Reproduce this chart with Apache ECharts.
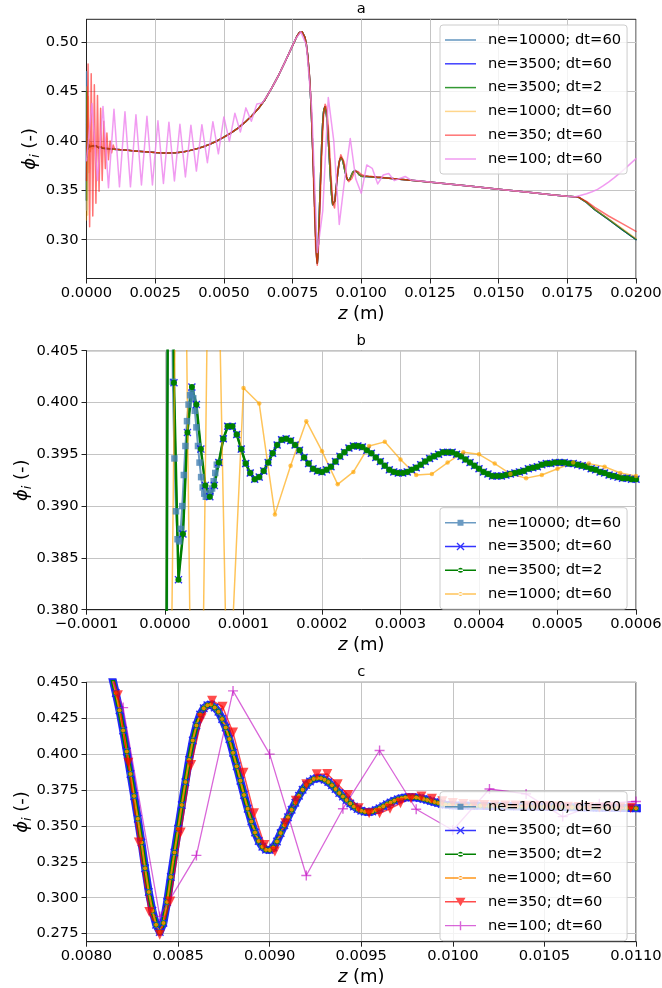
<!DOCTYPE html>
<html><head><meta charset="utf-8">
<script src="https://cdn.jsdelivr.net/npm/echarts@6/dist/echarts.min.js"></script>
<style>html,body{margin:0;padding:0;background:#fff}#c{width:662px;height:988px}</style>
</head><body><div id="c"></div>
<script>
// ---------------- DATA (z in micrometres, phi dimensionless) ----------------
const seriesNames = ['ne=10000; dt=60','ne=3500; dt=60','ne=3500; dt=2','ne=1000; dt=60','ne=350; dt=60','ne=100; dt=60'];
const panelTitles = ['a','b','c'];
const yTicksA = [0.30,0.35,0.40,0.45,0.50];
const yTicksB = [0.380,0.385,0.390,0.395,0.400,0.405];
const yTicksC = [0.275,0.300,0.325,0.350,0.375,0.400,0.425,0.450];

// ne=3500 nodes near the inlet (panel b)
const zB3500 = [0,5.71,11.43,17.14,22.86,28.57,34.29,40,45.71,51.43,57.14,62.86,68.57,74.29,80,85.71,91.43,97.14,102.86,108.57,114.29,120,125.71,131.43,137.14,142.86,148.57,154.29,160,165.71,171.43,177.14,182.86,188.57,194.29,200,205.71,211.43,217.14,222.86,228.57,234.29,240,245.71,251.43,257.14,262.86,268.57,274.29,280,285.71,291.43,297.14,302.86,308.57,314.29,320,325.71,331.43,337.14,342.86,348.57,354.29,360,365.71,371.43,377.14,382.86,388.57,394.29,400,405.71,411.43,417.14,422.86,428.57,434.29,440,445.71,451.43,457.14,462.86,468.57,474.29,480,485.71,491.43,497.14,502.86,508.57,514.29,520,525.71,531.43,537.14,542.86,548.57,554.29,560,565.71,571.43,577.14,582.86,588.57,594.29,600];
const phiB3500 = [0.34,0.45,0.4019,0.3829,0.3873,0.3971,0.4015,0.3998,0.3955,0.3920,0.3909,0.3920,0.3942,0.3965,0.3977,0.3977,0.3969,0.3955,0.3941,0.3932,0.3926,0.3928,0.3934,0.3942,0.3951,0.3959,0.3964,0.3965,0.3963,0.3959,0.3954,0.3947,0.3941,0.3936,0.3934,0.3933,0.3935,0.3938,0.3943,0.3948,0.3952,0.3956,0.3958,0.3958,0.3957,0.3954,0.3951,0.3947,0.3943,0.3939,0.3935,0.3933,0.3932,0.3932,0.3933,0.3935,0.3937,0.3940,0.3943,0.3946,0.3948,0.3950,0.3952,0.3952,0.3952,0.3950,0.3948,0.3945,0.3942,0.3939,0.3936,0.3933,0.3931,0.3929,0.3929,0.3929,0.3930,0.3931,0.3932,0.3933,0.3934,0.3936,0.3937,0.3938,0.3940,0.3941,0.3941,0.3942,0.3942,0.3942,0.3941,0.3941,0.3940,0.3939,0.3938,0.3936,0.3935,0.3933,0.3932,0.3930,0.3929,0.3928,0.3927,0.3927,0.3926,0.3926];

// ne=10000, first nodes (panel b)
const zB10000 = [0,2,4,6,8,10,12,14,16,18,20,22,24,26,28,30,32,34,36,38,40,42,44,46,48,50,52,54,56,58,60,62,64,66];
const phiB10000 = [0.34,0.33,0.47,0.44,0.418,0.402,0.3946,0.3895,0.3868,0.3866,0.3878,0.3900,0.3930,0.3958,0.3982,0.3998,0.4007,0.4009,0.4004,0.3992,0.3976,0.3958,0.3942,0.3928,0.3918,0.3912,0.3909,0.3909,0.3910,0.3913,0.3917,0.3924,0.3932,0.3940];

// ne=1000 nodes near the inlet (panel b)
const zB1000 = [0,20,40,60,80,100,120,140,160,180,200,220,240,260,280,300,320,340,360,380,400,420,440,460,480,500,520,540,560,580,600];
const phiB1000 = [0.320,0.455,0.325,0.445,0.368,0.4014,0.3999,0.3892,0.3939,0.3982,0.3953,0.3921,0.3933,0.3958,0.3962,0.3945,0.3930,0.3931,0.3942,0.3952,0.3950,0.3941,0.3931,0.3927,0.3930,0.3936,0.3942,0.3941,0.3938,0.3932,0.3929];

// ne=350 nodes near the inlet (panel a)
const zA350 = [0,57.1,114.3,171.4,228.6,285.7,342.9,400,457.1,514.3,571.4,628.6,685.7,742.9,800,857.1,914.3,971.4,1028.6];
const phiA350 = [0.360,0.478,0.313,0.468,0.324,0.457,0.337,0.446,0.349,0.433,0.360,0.420,0.372,0.408,0.381,0.400,0.388,0.396,0.3915];

// converged profile 0.7 - 8.05 mm (panel a)
const zAMid = [700,850,1000,1250,1500,1750,2000,2250,2500,2750,3000,3250,3500,3750,4000,4250,4500,4750,5000,5250,5500,5750,6000,6250,6500,6750,7000,7250,7500,7650,7750,7800,7850,7900,7950,8000,8050];
const phiAMid = [0.3924,0.3921,0.3917,0.3911,0.3905,0.3899,0.3893,0.3887,0.3882,0.3879,0.3878,0.3881,0.3889,0.3902,0.3920,0.3942,0.3968,0.4000,0.4038,0.4080,0.4128,0.4185,0.4250,0.4325,0.4420,0.4540,0.4670,0.4815,0.4965,0.5055,0.5098,0.5108,0.5105,0.5088,0.5050,0.4980,0.4870];

// converged profile 8.1 - 11 mm (panel c)
const cMain = [[8100,0.4710],[8120,0.4630],[8140,0.4535],[8160,0.4425],[8180,0.4305],[8200,0.4165],[8220,0.4018],[8240,0.3862],[8260,0.3708],[8280,0.3550],[8300,0.3385],[8320,0.3205],[8340,0.3040],[8360,0.2910],[8380,0.2812],[8400,0.2762],[8420,0.2825],[8440,0.2970],[8460,0.3145],[8480,0.3315],[8500,0.3480],[8520,0.3645],[8540,0.3805],[8560,0.3960],[8580,0.4095],[8600,0.4200],[8620,0.4275],[8640,0.4320],[8660,0.4340],[8680,0.4345],[8700,0.4325],[8720,0.4295],[8740,0.4245],[8760,0.4185],[8780,0.4105],[8800,0.4010],[8820,0.3915],[8840,0.3815],[8860,0.3715],[8880,0.3620],[8900,0.3530],[8920,0.3455],[8940,0.3395],[8960,0.3355],[8980,0.3335],[9000,0.3332],[9020,0.3350],[9040,0.3392],[9060,0.3450],[9080,0.3505],[9100,0.3560],[9120,0.3612],[9140,0.3662],[9160,0.3710],[9180,0.3752],[9200,0.3785],[9220,0.3810],[9240,0.3826],[9260,0.3833],[9280,0.3832],[9300,0.3822],[9320,0.3805],[9340,0.3783],[9360,0.3757],[9380,0.3730],[9400,0.3705],[9420,0.3680],[9440,0.3656],[9460,0.3635],[9480,0.3618],[9500,0.3606],[9520,0.3599],[9540,0.3597],[9560,0.3601],[9580,0.3611],[9600,0.3623],[9620,0.3637],[9640,0.3651],[9660,0.3664],[9680,0.3676],[9700,0.3686],[9720,0.3693],[9740,0.3698],[9760,0.3700],[9780,0.3700],[9800,0.3698],[9820,0.3694],[9840,0.3688],[9860,0.3681],[9880,0.3673],[9900,0.3666],[9920,0.3659],[9940,0.3653],[9960,0.3648],[9980,0.3645],[10000,0.3643],[10050,0.3642],[10100,0.3641],[10150,0.3640],[10200,0.3639],[10250,0.3638],[10300,0.3637],[10350,0.3636],[10400,0.3635],[10450,0.3634],[10500,0.3633],[10550,0.3632],[10600,0.3631],[10650,0.3630],[10700,0.3629],[10750,0.3628],[10800,0.3627],[10850,0.3626],[10900,0.3625],[10950,0.3624],[11000,0.3623]];

// ne=350 nodes 8 - 11 mm (panel c)
const c350 = [[8000,0.497],[8057.1,0.485],[8114.3,0.467],[8171.4,0.441],[8228.6,0.394],[8285.7,0.3385],[8342.9,0.290],[8400,0.2742],[8457.1,0.2974],[8514.3,0.3454],[8571.4,0.3925],[8628.6,0.4250],[8685.7,0.4372],[8742.9,0.4330],[8800,0.4150],[8857.1,0.3871],[8914.3,0.3588],[8971.4,0.3368],[9028.6,0.3322],[9085.7,0.3519],[9142.9,0.3675],[9200,0.3790],[9257.1,0.3860],[9314.3,0.3862],[9371.4,0.3790],[9428.6,0.3716],[9485.7,0.3623],[9542.9,0.3588],[9600,0.3588],[9657.1,0.3620],[9714.3,0.3658],[9771.4,0.3693],[9828.6,0.3705],[9885.7,0.3690],[9942.9,0.3672],[10000,0.3660],[10057.1,0.3652],[10114.3,0.3648],[10171.4,0.3646],[10228.6,0.3644],[10285.7,0.3643],[10342.9,0.3642],[10400,0.3640],[10457.1,0.3638],[10514.3,0.3637],[10571.4,0.3635],[10628.6,0.3634],[10685.7,0.3632],[10742.9,0.3631],[10800,0.3629],[10857.1,0.3628],[10914.3,0.3626],[10971.4,0.3625],[11028.6,0.3623]];

// outlet part (panel a)
const zATail = [12000,13000,14000,15000,16000,17000,17500,17900,18200,18500,19000,19500,20000];
const phiATail = [0.3598,0.3570,0.3541,0.3511,0.3482,0.3453,0.3439,0.3432,0.3378,0.3305,0.3205,0.3103,0.3002];
const phiATail1000 = [0.3598,0.3570,0.3541,0.3511,0.3482,0.3453,0.3439,0.3432,0.3380,0.3310,0.3212,0.3112,0.3012];
const phiATail350 = [0.3598,0.3570,0.3541,0.3511,0.3482,0.3453,0.3439,0.3432,0.3388,0.3328,0.3240,0.3162,0.3084];

// ne=100 over the whole bed
const a100 = [[0,0.380],[200,0.438],[400,0.360],[600,0.435],[800,0.3527],[1000,0.432],[1200,0.3535],[1400,0.4295],[1600,0.3535],[1800,0.4265],[2000,0.3555],[2200,0.4250],[2400,0.3555],[2600,0.4205],[2800,0.3570],[3000,0.4190],[3200,0.3595],[3400,0.4168],[3600,0.3635],[3800,0.4160],[4000,0.3695],[4200,0.4165],[4400,0.3780],[4600,0.4195],[4800,0.3870],[5000,0.4243],[5200,0.3995],[5400,0.4280],[5600,0.4090],[5800,0.4335],[6000,0.4200],[6200,0.4375],[6400,0.4385],[6600,0.4470],[6800,0.4565],[7000,0.4670],[7200,0.4785],[7400,0.4905],[7600,0.5030],[7800,0.5105],[8000,0.4975],[8200,0.4324],[8400,0.2870],[8600,0.3295],[8800,0.4440],[9000,0.4000],[9200,0.3155],[9400,0.3620],[9600,0.4025],[9800,0.3616],[10000,0.3470],[10200,0.3757],[10400,0.3723],[10600,0.3565],[10800,0.3655],[11000,0.3670],[11200,0.3598],[11400,0.3620],[11600,0.3640],[11800,0.3605],[12000,0.3600],[12500,0.3584],[13000,0.3570],[14000,0.3541],[15000,0.3511],[16000,0.3482],[17000,0.3453],[17600,0.3437],[17800,0.3434],[18000,0.3450],[18200,0.3465],[18400,0.3485],[18600,0.3510],[18800,0.3545],[19000,0.3584],[19200,0.3626],[19400,0.3672],[19600,0.3720],[19800,0.3770],[20000,0.3821]];

// ---------------- BUILD ----------------
const FONT = "'DejaVu Sans', sans-serif";
function pairs(z, p){ return z.map((v,i)=>[v,p[i]]); }
function chain(){ const out=[]; for (const seg of arguments){ for (const pt of seg){ if(!out.length || pt[0] > out[out.length-1][0]) out.push(pt); } } return out; }

const b3500 = pairs(zB3500, phiB3500);
const b10000 = chain(pairs(zB10000, phiB10000), b3500);
const b1000 = pairs(zB1000, phiB1000);
const mid = pairs(zAMid, phiAMid);
const tail = pairs(zATail, phiATail);
const s10000 = chain(b10000, mid, cMain, tail);
const s3500 = chain(b3500, mid, cMain, tail);
const s1000 = chain(b1000, mid, cMain, pairs(zATail, phiATail1000));
const s350 = chain(pairs(zA350, phiA350), mid, c350, pairs(zATail, phiATail350));
const s100 = a100;

const SYM_X = 'path://M0,1.2L1.2,0L5,3.8L8.8,0L10,1.2L6.2,5L10,8.8L8.8,10L5,6.2L1.2,10L0,8.8L3.8,5Z';
const SYM_P = 'path://M4.3,0H5.7V4.3H10V5.7H5.7V10H4.3V5.7H0V4.3H4.3Z';

const ICON_LINE = 'path://M0,0H31V1.5H0Z';
const ICON_SQ = 'path://M0,2.25H31V3.75H0Z M12.5,0H18.5V6H12.5Z';
const ICON_X = 'path://M0,3.2H31V4.8H0Z M11.5,0.9L12.4,0L15.5,3.1L18.6,0L19.5,0.9L16.4,4L19.5,7.1L18.6,8L15.5,4.9L12.4,8L11.5,7.1L14.6,4Z';
const ICON_DOT = 'path://M0,1.75H31V3.25H0Z M13,2.5A2.5,2.5 0 1,0 18,2.5A2.5,2.5 0 1,0 13,2.5Z';
const ICON_DOT_S = 'path://M0,1.25H31V2.75H0Z M13.5,2A2,2 0 1,0 17.5,2A2,2 0 1,0 13.5,2Z';
const ICON_TRI = 'path://M0,3.25H31V4.75H0Z M10.5,0H20.5L15.5,8.5Z';
const ICON_PLUS = 'path://M0,3.9H31V5.1H0Z M14.8,0H16.2V3.9H20V5.1H16.2V9H14.8V5.1H11V3.9H14.8Z';

const GRID_L = 86.5, GRID_W = 549.5;
const grids = [
  {left:GRID_L, top:19.3, width:GRID_W, height:259.2},
  {left:GRID_L, top:350.7, width:GRID_W, height:259},
  {left:GRID_L, top:682.3, width:GRID_W, height:259.4}
];
grids.forEach(g=>{ g.show=true; g.borderColor='#222'; g.borderWidth=1; g.backgroundColor='transparent'; g.containLabel=false; g.outerBoundsMode='none'; });

function fmtX(v){ const s=(Math.abs(v)/1e6).toFixed(4); return v<0 ? '\u2212'+s : s; }
function xAxis(gi,min,max,interval){
  return {type:'value', gridIndex:gi, min, max, interval,
    axisLine:{show:true,onZero:false,lineStyle:{color:'#222',width:1}},
    axisTick:{show:true,inside:false,length:5,lineStyle:{color:'#222',width:1}},
    axisLabel:{show:true,margin:7,color:'#000',fontSize:14.7,fontFamily:FONT,formatter:fmtX},
    splitLine:{show:true,lineStyle:{color:'#c4c4c4',width:1}},
    name:'{i|z} (m)', nameLocation:'middle', nameGap:27, nameMoveOverlap:false,
    nameTextStyle:{fontSize:18,color:'#000',fontFamily:FONT,rich:{i:{fontStyle:'italic',fontSize:18,color:'#000',fontFamily:FONT}}}
  };
}
function yAxis(gi,min,max,ticks,dec,gap){
  return {type:'value', gridIndex:gi, min, max,
    axisLine:{show:true,onZero:false,lineStyle:{color:'#222',width:1}},
    axisTick:{show:true,inside:false,length:5,customValues:ticks,lineStyle:{color:'#222',width:1}},
    axisLabel:{show:true,margin:8,color:'#000',fontSize:14.7,fontFamily:FONT,customValues:ticks,formatter:v=>v.toFixed(dec)},
    splitLine:{show:true,lineStyle:{color:'#c4c4c4',width:1}},
    name:'{p|\u03d5}{s|i} (-)', nameLocation:'middle', nameRotate:90, nameGap:gap, nameMoveOverlap:false,
    nameTextStyle:{fontSize:18,color:'#000',fontFamily:FONT,lineHeight:24,rich:{
      p:{fontStyle:'italic',fontSize:18,color:'#000',fontFamily:FONT,lineHeight:24,verticalAlign:'middle'},
      s:{fontStyle:'italic',fontSize:12.5,color:'#000',fontFamily:FONT,lineHeight:24,verticalAlign:'bottom'}}}
  };
}

function line(name, gi, data, color, width, sym){
  const s = {name, type:'line', xAxisIndex:gi, yAxisIndex:gi, data, clip:true, silent:true, animation:false,
    lineStyle:{color, width, join:'round', cap:'round'}, itemStyle:{color, borderWidth:0}, emphasis:{disabled:true}};
  if (sym){ s.symbol=sym.symbol; s.symbolSize=sym.size; s.showSymbol=true; if(sym.rotate) s.symbolRotate=sym.rotate; }
  else { s.symbol='none'; s.showSymbol=false; }
  return s;
}
const SUF = ['', '\u200b', '\u200b\u200b'];
const N = (i,p)=>seriesNames[i]+SUF[p];

const cSteel='rgba(70,130,180,0.85)', cBlue='rgba(0,0,255,0.75)', cGreen='rgba(0,128,0,0.8)';
const series = [
  // panel a
  line(N(0,0),0,s10000,cSteel,1.5),
  line(N(1,0),0,s3500,cBlue,1.5),
  line(N(2,0),0,s3500,cGreen,1.5),
  line(N(3,0),0,s1000,'rgba(255,165,0,0.45)',1.5),
  line(N(4,0),0,s350,'rgba(255,0,0,0.55)',1.5),
  line(N(5,0),0,s100,'rgba(238,130,238,0.8)',1.5),
  // panel b
  line(N(0,1),1,s10000,'rgba(70,130,180,0.8)',2,{symbol:'rect',size:6.5}),
  line(N(1,1),1,s3500,'rgba(0,0,255,0.8)',1.5,{symbol:SYM_X,size:8}),
  line(N(2,1),1,s3500,'rgb(0,128,0)',2.5,{symbol:'circle',size:6}),
  line(N(3,1),1,s1000,'rgba(255,165,0,0.65)',1.5,{symbol:'circle',size:4.5}),
  // panel c
  line(N(0,2),2,s10000,'rgba(70,130,180,0.85)',7,{symbol:'rect',size:6}),
  line(N(1,2),2,s3500,'rgba(20,20,255,0.85)',8,{symbol:SYM_X,size:8.5}),
  line(N(2,2),2,s3500,'rgb(0,128,0)',4.5,{symbol:'circle',size:5}),
  line(N(3,2),2,s1000,'rgba(255,140,0,0.9)',2,{symbol:'circle',size:4}),
  line(N(4,2),2,s350,'rgba(255,0,0,0.7)',1.5,{symbol:'triangle',size:10,rotate:180}),
  line(N(5,2),2,s100,'rgba(191,0,191,0.6)',1.3,{symbol:SYM_P,size:10})
];
// legend icons use the plain line width
function legend(top, p, icons){
  return {show:true, orient:'vertical', left:440, top, selectedMode:false,
    data: icons.map((ic,i)=>({name:N(i,p), icon:ic})),
    itemWidth:31, itemHeight:14, itemGap:8.8,
    padding:[7.5,6,7.5,5], backgroundColor:'rgba(255,255,255,0.8)', borderColor:'#cccccc', borderWidth:1, borderRadius:3,
    itemStyle:{borderWidth:0}, lineStyle:{width:0},
    formatter: n=>'{g|}'+n.replace(/\u200b/g,''),
    textStyle:{fontSize:14.7,color:'#000',fontFamily:FONT,lineHeight:14,rich:{g:{width:7,fontSize:14.7,lineHeight:14}}}
  };
}

const option = {
  backgroundColor:'#fff', animation:false,
  grid: grids,
  xAxis: [xAxis(0,0,20000,2500), xAxis(1,-100,600,100), xAxis(2,8000,11000,500)],
  yAxis: [yAxis(0,0.2607,0.5232,yTicksA,2,44), yAxis(1,0.380,0.405,yTicksB,3,52.5), yAxis(2,0.2694,0.450,yTicksC,3,52.5)],
  legend: [
    legend(25,0,[ICON_LINE,ICON_LINE,ICON_LINE,ICON_LINE,ICON_LINE,ICON_LINE]),
    legend(507.7,1,[ICON_SQ,ICON_X,ICON_DOT,ICON_DOT_S]),
    legend(791.7,2,[ICON_SQ,ICON_X,ICON_DOT,ICON_DOT_S,ICON_TRI,ICON_PLUS])
  ],
  graphic: panelTitles.map((t,i)=>({type:'text', x:GRID_L+GRID_W/2, y:[9.3,340.7,671.7][i], silent:true,
    style:{text:t, align:'center', verticalAlign:'middle', fontSize:14.7, fontFamily:FONT, fill:'#000'}})),
  series
};
const chart = echarts.init(document.getElementById('c'), null, {renderer:'canvas', width:662, height:988});
chart.setOption(option);
</script></body></html>
